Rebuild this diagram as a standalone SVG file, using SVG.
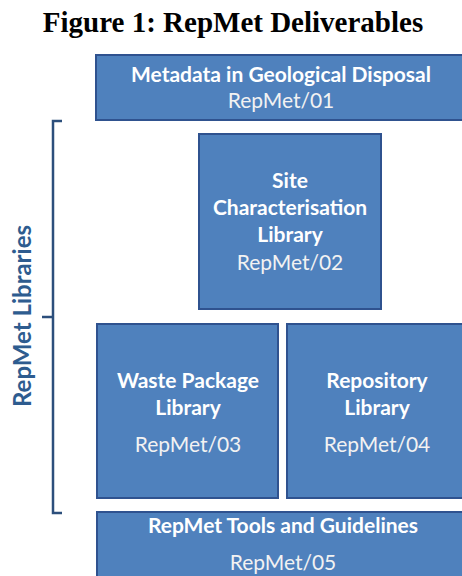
<svg xmlns="http://www.w3.org/2000/svg" width="462" height="576" viewBox="0 0 462 576">
<style>
.box{fill:#4f81bd;stroke:#2f528f;stroke-width:2}
.b{font-family:Lato,"Open Sans",sans-serif;font-weight:bold;font-size:21px;fill:#fff;text-anchor:middle}
.r{font-family:Lato,"Open Sans",sans-serif;font-size:21px;fill:#f2f2f2;text-anchor:middle}
</style>
<rect width="462" height="576" fill="#fff"/>
<text x="233" y="32" font-family="Liberation Serif,serif" font-weight="bold" font-size="29" text-anchor="middle" fill="#000">Figure 1: RepMet Deliverables</text>
<g id="brace">
<path d="M62,121 H53 V513 H62 M53,317 H42" fill="none" stroke="#2c4f7c" stroke-width="2.5"/>
<text transform="translate(31,316) rotate(-90)" font-family="Lato,'Open Sans',sans-serif" font-weight="bold" font-size="24" fill="#2e5c8f" text-anchor="middle">RepMet Libraries</text>
</g>
<g id="n1"><rect class="box" x="96" y="55" width="370" height="65"/>
<text class="b" x="281" y="82">Metadata in Geological Disposal</text>
<text class="r" x="281" y="108">RepMet/01</text></g>
<g id="n2"><rect class="box" x="199" y="134" width="182" height="175"/>
<text class="b" x="290" y="188">Site</text>
<text class="b" x="290" y="215">Characterisation</text>
<text class="b" x="290" y="242">Library</text>
<text class="r" x="290" y="270">RepMet/02</text></g>
<g id="n3"><rect class="box" x="97" y="324" width="181" height="174"/>
<text class="b" x="188" y="388">Waste Package</text>
<text class="b" x="188" y="415">Library</text>
<text class="r" x="188" y="452">RepMet/03</text></g>
<g id="n4"><rect class="box" x="287" y="324" width="180" height="174"/>
<text class="b" x="377" y="388">Repository</text>
<text class="b" x="377" y="415">Library</text>
<text class="r" x="377" y="452">RepMet/04</text></g>
<g id="n5"><rect class="box" x="97" y="512" width="370" height="70"/>
<text class="b" x="283" y="533">RepMet Tools and Guidelines</text>
<text class="r" x="283" y="570">RepMet/05</text></g>
<g id="connectors"/>
</svg>
